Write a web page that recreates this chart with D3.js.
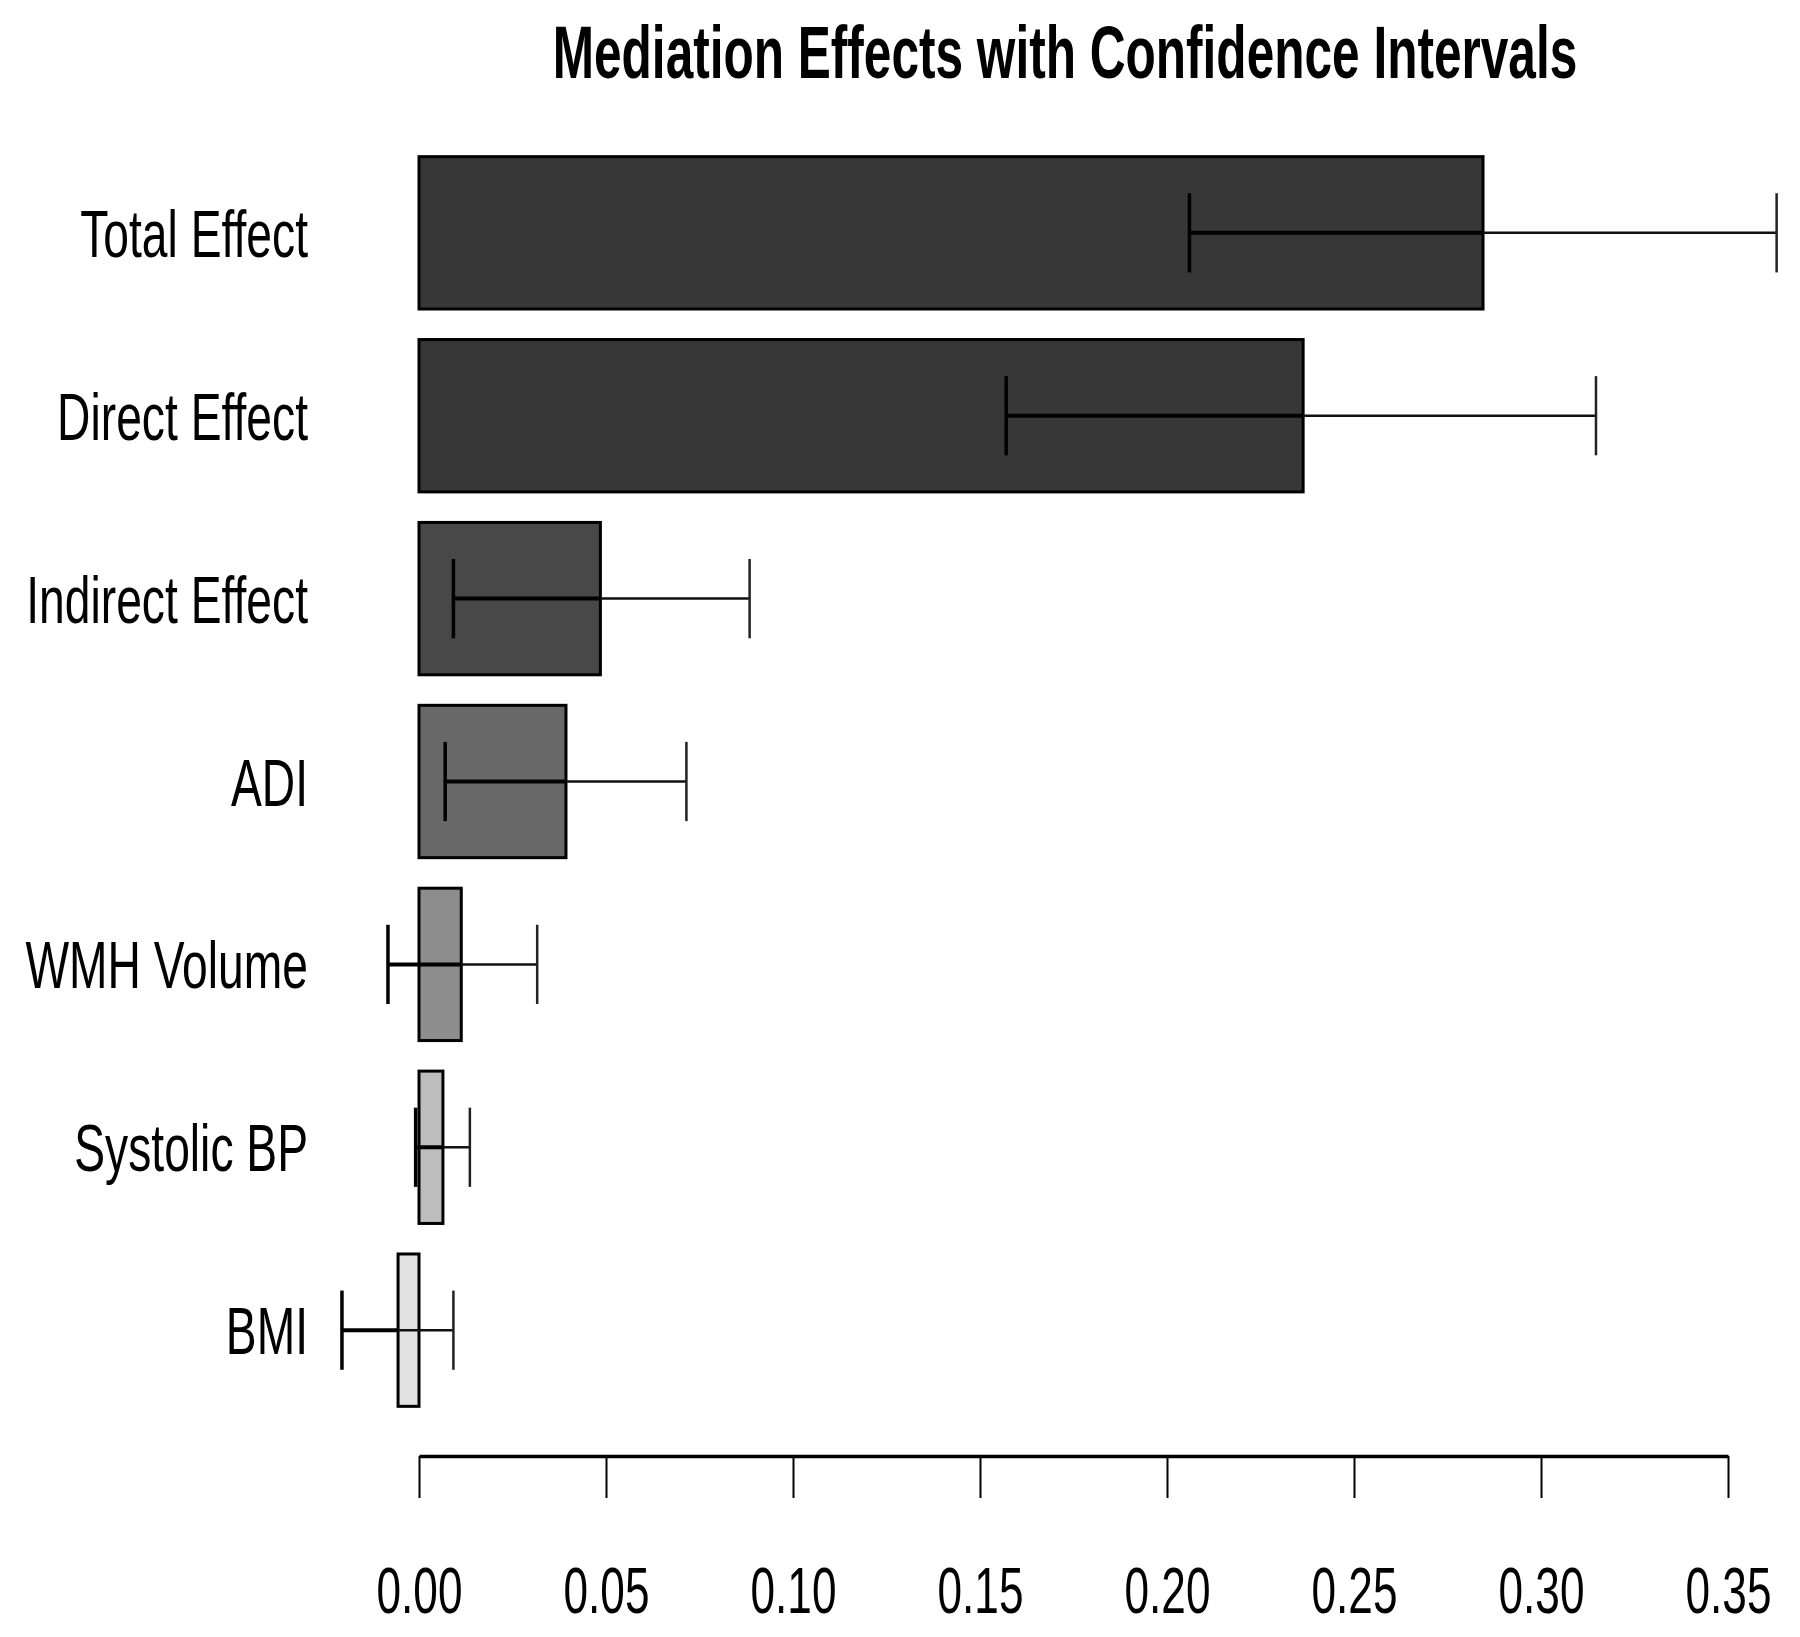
<!DOCTYPE html>
<html>
<head>
<meta charset="utf-8">
<script src="https://cdn.jsdelivr.net/npm/d3@7"></script>
<style>
  body { margin: 0; background: #fff; }
  text { font-family: "Liberation Sans", Arial, sans-serif; fill: #000; }
</style>
</head>
<body>
<div id="chart"></div>
<script>
// data
var effects = ["Total Effect", "Direct Effect", "Indirect Effect", "ADI", "WMH Volume", "Systolic BP", "BMI"];
var estimates = [0.2845, 0.2364, 0.0485, 0.0393, 0.0113, 0.0064, -0.0056];
var lowerCI = [0.206, 0.157, 0.0092, 0.0070, -0.0083, -0.0009, -0.0206];
var upperCI = [0.363, 0.3147, 0.0884, 0.0715, 0.0316, 0.0136, 0.0092];
var ticks = [0, 0.05, 0.10, 0.15, 0.20, 0.25, 0.30, 0.35];

var fills = ["#373737", "#373737", "#484848", "#686868", "#8d8d8d", "#bdbdbd", "#e1e1e1"];

var width = 1800, height = 1637;
var squeeze = 0.67; // text in the picture is narrow

var rows = effects.map(function(d, i) {
  return { name: d, value: estimates[i], lo: lowerCI[i], hi: upperCI[i] };
});

var svg = d3.select("#chart").append("svg")
  .attr("width", width)
  .attr("height", height);

var x = d3.scaleLinear().domain([0, 0.35]).range([419, 1728]);
var y = d3.scaleBand().domain(effects).range([153, 1410]).paddingInner(0.167).paddingOuter(0.02);
var color = d3.scaleOrdinal().domain(effects).range(fills);

// title
svg.append("text")
  .attr("transform", "translate(1065,78) scale(" + squeeze + ",1)")
  .attr("text-anchor", "middle")
  .style("font-size", "74px")
  .style("font-weight", "bold")
  .text("Mediation Effects with Confidence Intervals");

// bars
svg.selectAll("rect.bar")
  .data(rows)
  .enter().append("rect")
    .attr("class", "bar")
    .attr("x", function(d) { return x(Math.min(0, d.value)); })
    .attr("y", function(d) { return y(d.name); })
    .attr("width", function(d) { return Math.abs(x(d.value) - x(0)); })
    .attr("height", y.bandwidth())
    .attr("fill", function(d) { return color(d.name); })
    .attr("stroke", "#000")
    .attr("stroke-width", 3);

// error bars: lower half drawn heavier than upper half, as in the picture
var capH = y.bandwidth() * 0.26;
var err = svg.selectAll("g.err")
  .data(rows)
  .enter().append("g")
    .attr("class", "err")
    .attr("transform", function(d) { return "translate(0," + (y(d.name) + y.bandwidth() / 2) + ")"; });

err.append("line")
  .attr("x1", function(d) { return x(d.lo); })
  .attr("x2", function(d) { return x(d.value); })
  .attr("stroke", "#000").attr("stroke-width", 4);
err.append("line")
  .attr("x1", function(d) { return x(d.value); })
  .attr("x2", function(d) { return x(d.hi); })
  .attr("stroke", "#111").attr("stroke-width", 2.5);
err.append("line")
  .attr("x1", function(d) { return x(d.lo); })
  .attr("x2", function(d) { return x(d.lo); })
  .attr("y1", -capH).attr("y2", capH)
  .attr("stroke", "#000").attr("stroke-width", 3.5);
err.append("line")
  .attr("x1", function(d) { return x(d.hi); })
  .attr("x2", function(d) { return x(d.hi); })
  .attr("y1", -capH).attr("y2", capH)
  .attr("stroke", "#222").attr("stroke-width", 2.5);

// category labels
svg.selectAll("text.lab")
  .data(rows)
  .enter().append("text")
    .attr("class", "lab")
    .attr("transform", function(d) {
      return "translate(308," + (y(d.name) + y.bandwidth() / 2 + 24) + ") scale(0.69,1)";
    })
    .attr("text-anchor", "end")
    .style("font-size", "67px")
    .text(function(d) { return d.name; });

// x axis
var axis = svg.append("g")
  .attr("transform", "translate(0,1456)")
  .call(d3.axisBottom(x).tickValues(ticks).tickSize(42).tickSizeOuter(0).tickFormat(d3.format(".2f")));

axis.select(".domain").attr("stroke", "#000").attr("stroke-width", 3.5);
axis.selectAll(".tick line").attr("stroke", "#000").attr("stroke-width", 2);
axis.selectAll(".tick text")
  .attr("y", 0).attr("dy", null)
  .attr("transform", "translate(0,157) scale(0.69,1)")
  .style("font-size", "64px")
  .style("font-family", "Liberation Sans, Arial, sans-serif");
</script>
</body>
</html>
